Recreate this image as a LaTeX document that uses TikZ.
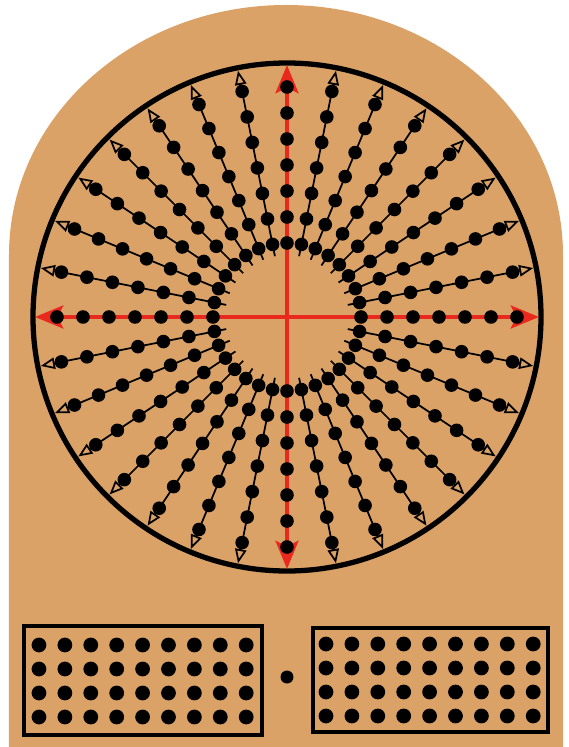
\documentclass[tikz,border=0pt]{standalone}
\usepackage{xcolor}
\usepackage{tikz}
\usetikzlibrary{arrows.meta}

\definecolor{plate}{RGB}{219,162,104}
\definecolor{axisred}{RGB}{233,40,30}

\tikzset{
  ray/.style={line width=1pt, -{Triangle[open, length=8pt, width=6.5pt]}},
  redaxis/.style={axisred, line width=2.4pt, -{Stealth[length=16pt, width=13pt, inset=3pt]}},
  panel/.style={line width=2.4pt}
}

\begin{document}
\begin{tikzpicture}[x=0.02cm,y=0.02cm]
    % Frame: 568 x 747 units, centre of the disc at the origin
    \useasboundingbox (-287,-430) rectangle (281,317);
    % Plate with arched top
    \fill[plate] (-278,-430) -- (-278,62)
      arc[start angle=180, end angle=0, x radius=277, y radius=250]
      -- (276,-430) -- cycle;
    % Disc
    \draw[line width=3pt] (0,0) circle (254);
    % Rays (every 8th one is an axis)
    \foreach \i in {0,...,31} {
      \pgfmathsetmacro{\a}{\i*11.25}
      \pgfmathtruncatemacro{\k}{mod(\i,8)}
      \ifnum\k>0
        \draw[ray] (\a:62) -- (\a:251);
      \fi
    }
    % Axes
    \coordinate (c) at (0,0);
    \foreach \d in {0,90,180,270} {
      \coordinate (end\d) at (\d:252);
      \draw[redaxis] (c) -- (end\d);
    }
    % Beads on the rays
    \foreach \i in {0,...,31} {
      \pgfmathsetmacro{\a}{\i*11.25}
      \foreach \r in {74,100,...,230} {
        \fill (\a:\r) circle (6.8);
      }
    }
    % Panels
    \draw[panel] (-263,-309) rectangle (-25,-418);
    \draw[panel] (26,-311) rectangle (261,-415);
    \foreach \row in {0,...,3} {
      \foreach \col in {0,...,8} {
        \fill (-248+\col*25.9,-328-\row*24) circle (7.4);
        \fill (39+\col*25.9,-327-\row*24) circle (7.4);
      }
    }
    % Centre bead
    \fill (0,-360) circle (6.5);
  \end{tikzpicture}
\end{document}
